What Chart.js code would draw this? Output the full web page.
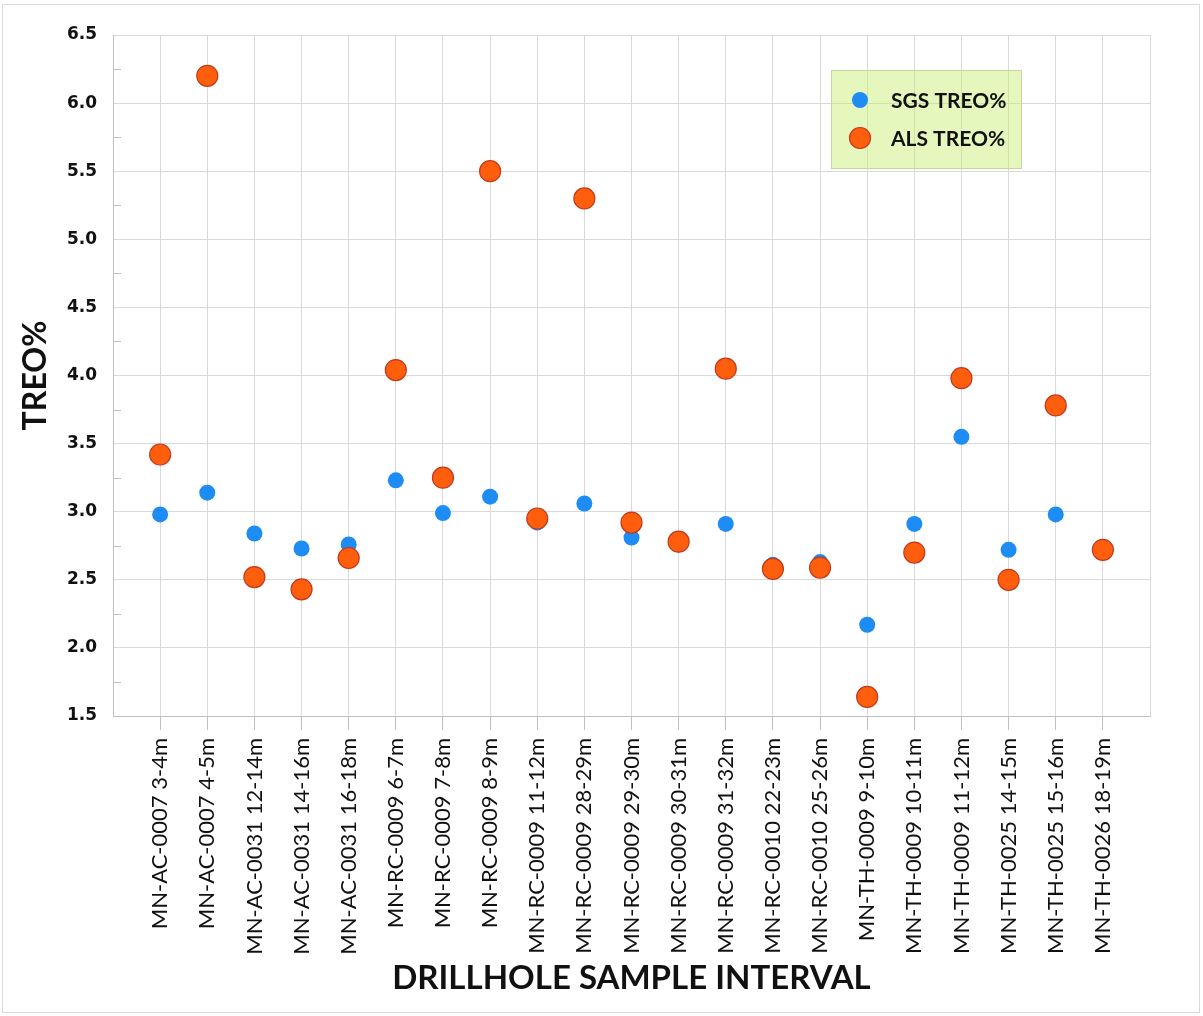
<!DOCTYPE html>
<html><head><meta charset="utf-8">
<script src="https://cdn.jsdelivr.net/npm/chart.js@4.4.1/dist/chart.umd.min.js"></script>
<style>
html,body{margin:0;padding:0;background:#fff;}
#wrap{position:relative;width:1203px;height:1016px;}
#frame{position:absolute;left:2px;top:4px;width:1196px;height:1007px;border:1px solid #d9d9d9;pointer-events:none;}
canvas{display:block;}
</style></head><body>
<div id="wrap"><canvas id="c" width="1203" height="1016"></canvas><div id="frame"></div></div>
<script>
const categories = [
  'MN-AC-0007 3-4m','MN-AC-0007 4-5m','MN-AC-0031 12-14m','MN-AC-0031 14-16m','MN-AC-0031 16-18m',
  'MN-RC-0009 6-7m','MN-RC-0009 7-8m','MN-RC-0009 8-9m','MN-RC-0009 11-12m','MN-RC-0009 28-29m',
  'MN-RC-0009 29-30m','MN-RC-0009 30-31m','MN-RC-0009 31-32m','MN-RC-0010 22-23m','MN-RC-0010 25-26m',
  'MN-TH-0009 9-10m','MN-TH-0009 10-11m','MN-TH-0009 11-12m','MN-TH-0025 14-15m','MN-TH-0025 15-16m',
  'MN-TH-0026 18-19m'
];
const sgsTreo = [2.98,3.14,2.84,2.73,2.76,3.23,2.99,3.11,2.92,3.06,2.81,2.76,2.91,2.61,2.63,2.17,2.91,3.55,2.72,2.98,2.72];
const alsTreo = [3.42,6.20,2.52,2.43,2.66,4.04,3.25,5.50,2.95,5.30,2.92,2.78,4.05,2.58,2.59,1.64,2.70,3.98,2.50,3.78,2.72];
const seriesNames = ['SGS TREO%','ALS TREO%'];
const yMin = 1.5, yMax = 6.5, yStep = 0.5;
const xAxisTitle = 'DRILLHOLE SAMPLE INTERVAL';
const yAxisTitle = 'TREO%';

const toPoints = arr => arr.map((v,i)=>({x:i+1,y:v}));

const minorTicks = {
  id:'minorTicks',
  afterDatasetsDraw(chart){
    const y = chart.scales.y, a = chart.chartArea, ctx = chart.ctx;
    ctx.save();
    ctx.strokeStyle = '#bfbfbf'; ctx.lineWidth = 1;
    for (let v = yMin + yStep/2; v < yMax; v += yStep) {
      const py = Math.round(y.getPixelForValue(v)) + 0.5;
      ctx.beginPath(); ctx.moveTo(a.left, py); ctx.lineTo(a.left + 8, py); ctx.stroke();
    }
    ctx.restore();
  }
};

const legendBox = {
  id:'legendBox',
  afterDraw(chart){
    const ctx = chart.ctx, a = chart.chartArea;
    const x = a.right - 319, y = a.top + 35, w = 190, h = 98;
    ctx.save();
    ctx.fillStyle = 'rgba(200,238,110,0.45)';
    ctx.fillRect(x, y, w, h);
    ctx.strokeStyle = '#c6d69e'; ctx.lineWidth = 1;
    ctx.strokeRect(x + 0.5, y + 0.5, w, h);
    const ds = chart.data.datasets;
    const rows = [ds.find(d=>d.label===seriesNames[0]), ds.find(d=>d.label===seriesNames[1])];
    rows.forEach((d, i) => {
      const cy = y + 30 + i * 38;
      ctx.beginPath();
      ctx.arc(x + 29, cy, d.pointRadius, 0, Math.PI * 2);
      ctx.fillStyle = d.backgroundColor; ctx.fill();
      if (d.borderWidth) { ctx.lineWidth = d.borderWidth; ctx.strokeStyle = d.borderColor; ctx.stroke(); }
      ctx.fillStyle = '#111';
      ctx.font = 'bold 21px Lato';
      ctx.textBaseline = 'middle'; ctx.textAlign = 'left';
      ctx.fillText(d.label, x + 60, cy + 1);
    });
    ctx.restore();
  }
};

new Chart(document.getElementById('c'), {
  type: 'scatter',
  data: {
    datasets: [
      { label: seriesNames[0], data: toPoints(sgsTreo), order: 1,
        backgroundColor: '#1e8cf5', borderColor: '#1e8cf5', borderWidth: 0, pointRadius: 8, pointHoverRadius: 8 },
      { label: seriesNames[1], data: toPoints(alsTreo), order: 0,
        backgroundColor: '#ff5e0d', borderColor: '#c2391b', borderWidth: 1.2, pointRadius: 10.5, pointHoverRadius: 10.5 }
    ]
  },
  options: {
    responsive: false, animation: false,
    layout: { padding: { left: 0, top: 35, right: 53, bottom: 0 } },
    plugins: { legend: { display: false }, tooltip: { enabled: false } },
    scales: {
      x: {
        type: 'linear', min: 0, max: categories.length + 1,
        afterFit(s){ s.height = 300; },
        grid: { color: '#d9d9d9', tickLength: 14, drawTicks: true,
          tickColor: c => (c.tick && (c.tick.value === 0 || c.tick.value === categories.length + 1)) ? 'rgba(0,0,0,0)' : '#bfbfbf' },
        border: { color: '#bfbfbf', width: 1 },
        ticks: {
          stepSize: 1, autoSkip: false, minRotation: 90, maxRotation: 90, padding: 8,
          color: '#111', font: { family: 'Lato', size: 22 },
          callback: v => categories[v - 1] || ''
        },
        title: { display: true, text: xAxisTitle, color: '#111',
          font: { family: 'Lato', weight: 'bold', size: 33 }, padding: { top: 10, bottom: 18 } }
      },
      y: {
        min: yMin, max: yMax,
        afterFit(s){ s.width = 113; },
        grid: { color: '#d9d9d9', drawTicks: false },
        border: { color: '#bfbfbf', width: 1 },
        ticks: { stepSize: yStep, padding: 16, color: '#111',
          font: { family: 'DejaVu Sans', weight: 'bold', size: 17 },
          callback: v => v.toFixed(1) },
        title: { display: true, text: yAxisTitle, color: '#111',
          font: { family: 'Lato', weight: 'bold', size: 32 }, padding: { top: 16, bottom: 0 } }
      }
    }
  },
  plugins: [minorTicks, legendBox]
});
</script>
</body></html>
